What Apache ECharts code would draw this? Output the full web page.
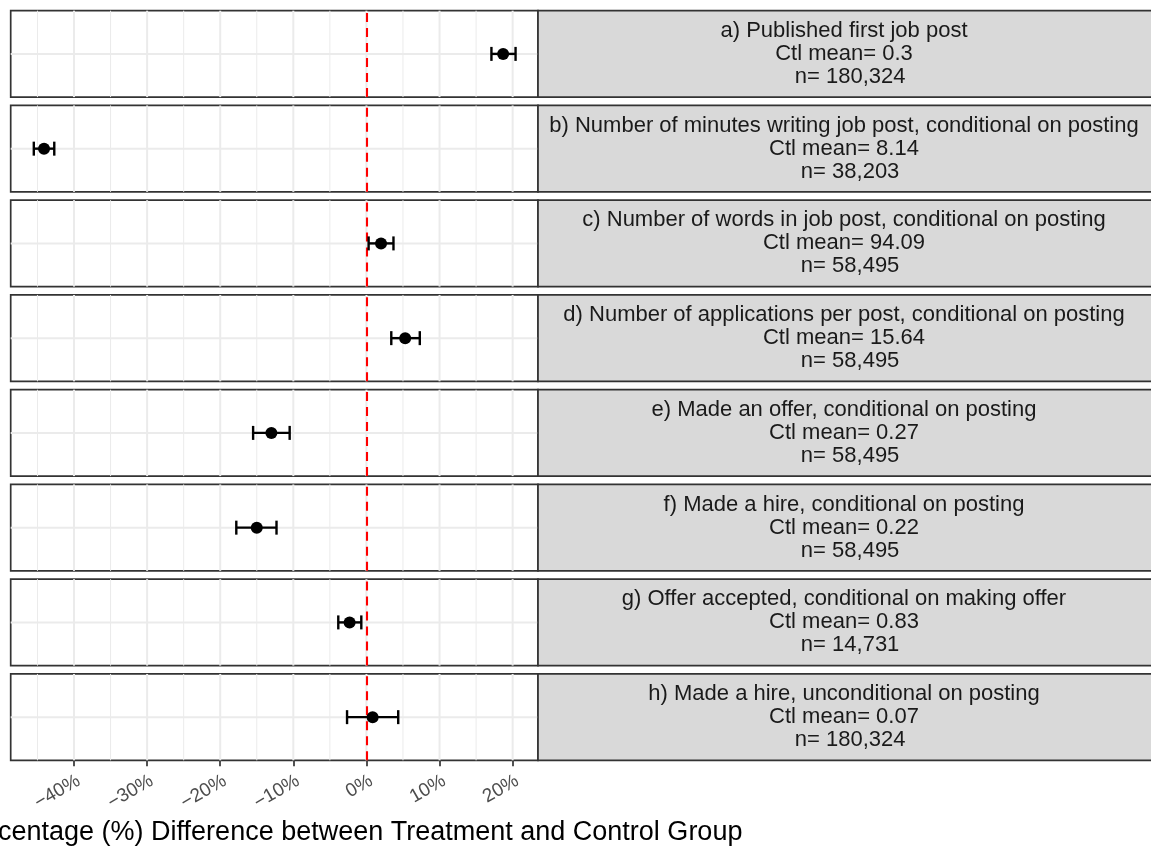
<!DOCTYPE html>
<html>
<head>
<meta charset="utf-8">
<script src="https://cdn.jsdelivr.net/npm/echarts@6/dist/echarts.min.js"></script>
<style>
  html, body { margin: 0; padding: 0; background: #ffffff; }
  #chart { width: 1151px; height: 850px; }
</style>
</head>
<body>
<div id="chart"></div>
<script>
// Outcomes, one facet per row
const outcomes = [
  'a) Published first job post',
  'b) Number of minutes writing job post, conditional on posting',
  'c) Number of words in job post, conditional on posting',
  'd) Number of applications per post, conditional on posting',
  'e) Made an offer, conditional on posting',
  'f) Made a hire, conditional on posting',
  'g) Offer accepted, conditional on making offer',
  'h) Made a hire, unconditional on posting'
];
const ctlMeans = ['0.3', '8.14', '94.09', '15.64', '0.27', '0.22', '0.83', '0.07'];
const sampleSizes = ['180,324', '38,203', '58,495', '58,495', '58,495', '58,495', '14,731', '180,324'];

// Percentage difference (treatment vs control) with confidence bounds
const estimates = [18.7, -44.1, 2.0, 5.3, -13.0, -15.0, -2.3, 0.85];
const ciLow     = [17.1, -45.5, 0.3, 3.4, -15.5, -17.8, -3.85, -2.65];
const ciHigh    = [20.4, -42.7, 3.7, 7.3, -10.5, -12.3, -0.7, 4.35];

// Axis ticks
const majorTicks = [-40, -30, -20, -10, 0, 10, 20];
const minorTicks = [-45, -35, -25, -15, -5, 5, 15];
const tickLabels = ['\u221240%', '\u221230%', '\u221220%', '\u221210%', '0%', '10%', '20%'];
const refLine = 0;

// Scale limits and layout
const X_MIN = -48.66, X_MAX = 23.47;
const PANEL_LEFT = 10.7, PANEL_RIGHT = 538;
const PANEL_TOP = 10.7, PANEL_PITCH = 94.75, PANEL_H = 86.4;
const STRIP_RIGHT = 1153;
const FONT = '"Liberation Sans", Arial, Helvetica, sans-serif';

const chart = echarts.init(document.getElementById('chart'), null, { renderer: 'canvas' });

const grids = [], xAxes = [], yAxes = [], series = [], graphics = [];
const n = outcomes.length;

outcomes.forEach((name, i) => {
  const top = PANEL_TOP + i * PANEL_PITCH;
  const isLast = i === n - 1;
  grids.push({
    left: PANEL_LEFT, top: top, width: PANEL_RIGHT - PANEL_LEFT, height: PANEL_H,
    show: true, backgroundColor: '#FFFFFF', borderColor: '#333333', borderWidth: 1.7,
    containLabel: false
  });
  xAxes.push({
    type: 'value', gridIndex: i, min: X_MIN, max: X_MAX, position: 'bottom',
    axisLine: { show: false, onZero: false },
    splitLine: { show: false },
    axisTick: isLast ? {
      show: true, customValues: majorTicks, length: 6, inside: false,
      lineStyle: { color: '#333333', width: 1.7 }
    } : { show: false },
    axisLabel: isLast ? {
      show: true, customValues: majorTicks, rotate: 30, margin: 11,
      align: 'right', verticalAlign: 'top',
      color: '#4D4D4D', fontSize: 19, fontFamily: FONT,
      formatter: v => tickLabels[majorTicks.indexOf(v)]
    } : { show: false }
  });
  yAxes.push({
    type: 'value', gridIndex: i, min: -1, max: 1,
    axisLine: { show: false, onZero: false }, axisTick: { show: false },
    axisLabel: { show: false }, splitLine: { show: false }
  });

  // Panel grid lines (minor + major verticals)
  const gridData = minorTicks.map(v => [v, 0]).concat(majorTicks.map(v => [v, 1]));
  series.push({
    type: 'custom', xAxisIndex: i, yAxisIndex: i, silent: true, z: 1,
    data: gridData,
    renderItem: (params, api) => {
      const v = api.value(0);
      const major = api.value(1) === 1;
      const p1 = api.coord([v, -1]);
      const p2 = api.coord([v, 1]);
      return {
        type: 'line',
        shape: { x1: p1[0], y1: p1[1], x2: p2[0], y2: p2[1] },
        style: { stroke: '#EBEBEB', lineWidth: major ? 2 : 1 }
      };
    }
  });
  // Horizontal grid line at the single row
  series.push({
    type: 'custom', xAxisIndex: i, yAxisIndex: i, silent: true, z: 1,
    data: [[0]],
    renderItem: (params, api) => {
      const p1 = api.coord([X_MIN, api.value(0)]);
      const p2 = api.coord([X_MAX, api.value(0)]);
      return {
        type: 'line',
        shape: { x1: p1[0], y1: p1[1], x2: p2[0], y2: p2[1] },
        style: { stroke: '#EBEBEB', lineWidth: 2 }
      };
    }
  });
  // Confidence interval bar
  series.push({
    type: 'custom', xAxisIndex: i, yAxisIndex: i, silent: true, z: 4,
    data: [[ciLow[i], ciHigh[i], 0]],
    renderItem: (params, api) => {
      const a = api.coord([api.value(0), api.value(2)]);
      const b = api.coord([api.value(1), api.value(2)]);
      const cap = 7;
      const st = { stroke: '#000000', lineWidth: 2.4 };
      return {
        type: 'group',
        children: [
          { type: 'line', shape: { x1: a[0], y1: a[1], x2: b[0], y2: b[1] }, style: st },
          { type: 'line', shape: { x1: a[0], y1: a[1] - cap, x2: a[0], y2: a[1] + cap }, style: st },
          { type: 'line', shape: { x1: b[0], y1: b[1] - cap, x2: b[0], y2: b[1] + cap }, style: st }
        ]
      };
    }
  });
  // Point estimate + reference line at zero
  series.push({
    type: 'scatter', xAxisIndex: i, yAxisIndex: i, z: 5,
    symbol: 'circle', symbolSize: 12,
    itemStyle: { color: '#000000', opacity: 1 },
    data: [[estimates[i], 0]],
    markLine: {
      silent: true, symbol: ['none', 'none'], z: 3,
      label: { show: false },
      lineStyle: { color: '#FF0000', type: [9, 6], width: 2.1 },
      emphasis: { disabled: true },
      data: [{ xAxis: refLine }]
    }
  });

  // Facet strip on the right
  graphics.push({
    type: 'rect', z: 10,
    shape: { x: PANEL_RIGHT, y: top, width: STRIP_RIGHT - PANEL_RIGHT, height: PANEL_H },
    style: { fill: '#D9D9D9', stroke: '#333333', lineWidth: 1.7 }
  });
  graphics.push({
    type: 'text', z: 11,
    x: (PANEL_RIGHT + 1150) / 2, y: top + PANEL_H / 2,
    style: {
      text: name + '\nCtl mean= ' + ctlMeans[i] + '\n  n= ' + sampleSizes[i],
      fill: '#1A1A1A', fontSize: 22, fontFamily: FONT,
      align: 'center', verticalAlign: 'middle', lineHeight: 23
    }
  });
});

// Axis title
graphics.push({
  type: 'text', z: 11,
  x: -44, y: 833,
  style: {
    text: 'Percentage (%) Difference between Treatment and Control Group',
    fill: '#000000', fontSize: 27, fontFamily: FONT,
    align: 'left', verticalAlign: 'middle'
  }
});

chart.setOption({
  animation: false,
  backgroundColor: '#FFFFFF',
  grid: grids,
  xAxis: xAxes,
  yAxis: yAxes,
  series: series,
  graphic: { elements: graphics }
});
</script>
</body>
</html>
